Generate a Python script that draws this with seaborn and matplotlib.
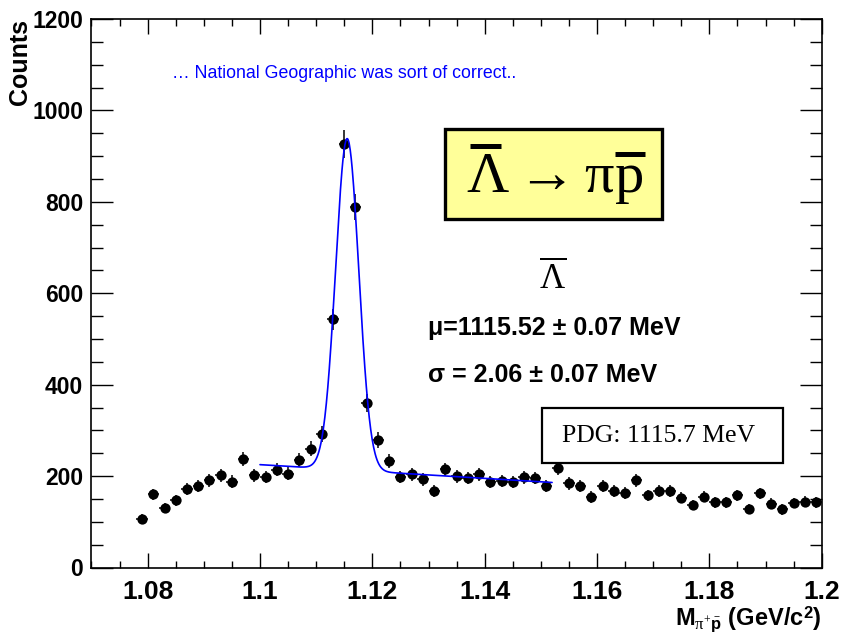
import numpy as np
import pandas as pd
import matplotlib
matplotlib.use("Agg")
import matplotlib.pyplot as plt
from matplotlib.patches import Rectangle
from matplotlib.lines import Line2D
from matplotlib.ticker import MultipleLocator
import seaborn as sns

# ---------------- data ----------------
bin_first = 1.079          # centre of first bin (GeV/c^2)
bin_width = 0.002          # bin width (GeV/c^2)
counts = [106, 160, 130, 147, 171, 178, 191, 202, 188, 238, 202, 198, 214, 205,
          236, 260, 292, 543, 926, 788, 360, 279, 233, 198, 204, 193, 168, 215,
          200, 196, 204, 187, 189, 187, 197, 196, 178, 218, 184, 178, 154, 178,
          168, 163, 191, 158, 167, 168, 153, 137, 155, 143, 143, 158, 128, 162,
          140, 127, 141, 144, 143]

# fit: gaussian + linear background
fit_range = [1.100, 1.152]
fit_mu = 1.11552
fit_sigma = 0.00206
fit_amp = 725.0
bg_at_start = 225.0
bg_slope = -750.0

x_ticks = [1.08, 1.10, 1.12, 1.14, 1.16, 1.18, 1.20]
x_ticklabels = ["1.08", "1.1", "1.12", "1.14", "1.16", "1.18", "1.2"]
y_ticks = [0, 200, 400, 600, 800, 1000, 1200]

# ---------------- build frames ----------------
mass = bin_first + bin_width * np.arange(len(counts))
df = pd.DataFrame({"mass": mass, "counts": counts})
df["err"] = np.sqrt(df["counts"])

xf = np.linspace(fit_range[0], fit_range[1], 600)
yf = (fit_amp * np.exp(-0.5 * ((xf - fit_mu) / fit_sigma) ** 2)
      + bg_at_start + bg_slope * (xf - fit_range[0]))
fit_df = pd.DataFrame({"mass": xf, "fit": yf})

# ---------------- style ----------------
sns.set_style("ticks")
plt.rcParams["font.family"] = ["Liberation Sans", "DejaVu Sans"]
plt.rcParams["text.color"] = "black"
plt.rcParams["xtick.color"] = "black"
plt.rcParams["ytick.color"] = "black"
plt.rcParams["xtick.labelcolor"] = "black"
plt.rcParams["ytick.labelcolor"] = "black"
plt.rcParams["mathtext.fontset"] = "custom"
plt.rcParams["mathtext.rm"] = "Liberation Serif"
plt.rcParams["mathtext.it"] = "Liberation Serif"
plt.rcParams["mathtext.bf"] = "Liberation Sans:bold"

W, H = 845, 634
fig = plt.figure(figsize=(W / 100, H / 100), dpi=100)
L, R, B, T = 91.5, 821.7, 567.5, 19.0
ax = fig.add_axes([L / W, 1 - B / H, (R - L) / W, (B - T) / H])

def fx(px):
    return px / W

def fy(py):
    return 1 - py / H

# data points with error bars
ax.errorbar(df["mass"], df["counts"], yerr=df["err"], xerr=bin_width / 2,
            fmt="none", ecolor="black", elinewidth=1.1, capsize=0, zorder=2)
sns.scatterplot(data=df, x="mass", y="counts", ax=ax, color="black",
                s=55, edgecolor="black", linewidth=0, zorder=3, legend=False)
# fit
sns.lineplot(data=fit_df, x="mass", y="fit", ax=ax, color="#0000ff",
             linewidth=1.2, zorder=4, legend=False)

ax.set_xlim(1.07, 1.2)
ax.set_ylim(0, 1200)
ax.set_xticks(x_ticks)
ax.set_xticklabels(x_ticklabels)
ax.set_yticks(y_ticks)
ax.xaxis.set_minor_locator(MultipleLocator(0.005))
ax.yaxis.set_minor_locator(MultipleLocator(50))
ax.tick_params(axis="both", which="both", direction="in", top=True, right=True,
               color="black", width=1.0)
ax.tick_params(axis="x", which="major", length=10.8, pad=9, labelsize=19)
ax.tick_params(axis="x", which="minor", length=5)
ax.tick_params(axis="y", which="major", length=16, pad=6, labelsize=16.5)
ax.tick_params(axis="y", which="minor", length=8.6)
for lab in ax.get_xticklabels() + ax.get_yticklabels():
    lab.set_fontweight("bold")
    lab.set_color("black")
for sp in ax.spines.values():
    sp.set_linewidth(1.2)
    sp.set_color("black")
ax.set_xlabel("")
ax.set_ylabel("")

# axis titles (ROOT style, at the end of the axes)
fig.text(fx(R), fy(619),
         r"M$_{\pi^{+}\bar{\mathbf{p}}}$ (GeV/c$^{\mathbf{2}}$)", ha="right",
         va="center", fontsize=17, fontweight="bold")
fig.text(fx(20), fy(19), "Counts", rotation=90, ha="center", va="top",
         fontsize=18, fontweight="bold")

# blue comment
fig.text(fx(344), fy(73), "\u2026 National Geographic was sort of correct..",
         ha="center", va="center", fontsize=12.8, color="#0000ff")

# yellow box
fig.patches.append(Rectangle((fx(445), fy(219)), (661.7 - 445) / W, (219 - 129.3) / H,
                             transform=fig.transFigure, facecolor="#ffff99",
                             edgecolor="black", linewidth=2.4, zorder=5))
fig.text(fx(555), fy(192), r"$\Lambda\rightarrow\pi\mathrm{p}$",
         ha="center", va="baseline", fontsize=42, zorder=6)
# thick ROOT-style bars over Lambda and p
fig.lines.append(Line2D([fx(470), fx(501)], [fy(145.5), fy(145.5)],
                        transform=fig.transFigure, color="black",
                        linewidth=3.6, solid_capstyle="butt", zorder=7))
fig.lines.append(Line2D([fx(615), fx(645)], [fy(153.5), fy(153.5)],
                        transform=fig.transFigure, color="black",
                        linewidth=3.6, solid_capstyle="butt", zorder=7))

# lambda-bar label
fig.text(fx(553), fy(278), r"$\overline{\Lambda}$", ha="center", va="center",
         fontsize=25)

# fit results
fig.text(fx(428), fy(328), "\u03bc=1115.52 \u00b1 0.07 MeV", ha="left",
         va="center", fontsize=18, fontweight="bold")
fig.text(fx(428), fy(375), "\u03c3 = 2.06 \u00b1 0.07 MeV", ha="left",
         va="center", fontsize=18, fontweight="bold")

# PDG box
fig.patches.append(Rectangle((fx(541.7), fy(462.7)), (783.3 - 541.7) / W, (462.7 - 408) / H,
                             transform=fig.transFigure, facecolor="white",
                             edgecolor="black", linewidth=1.6, zorder=5))
fig.text(fx(659), fy(436), "PDG: 1115.7 MeV", ha="center", va="center",
         fontsize=18.5, family="Liberation Serif", zorder=6)

fig.savefig("out.png", dpi=100)
